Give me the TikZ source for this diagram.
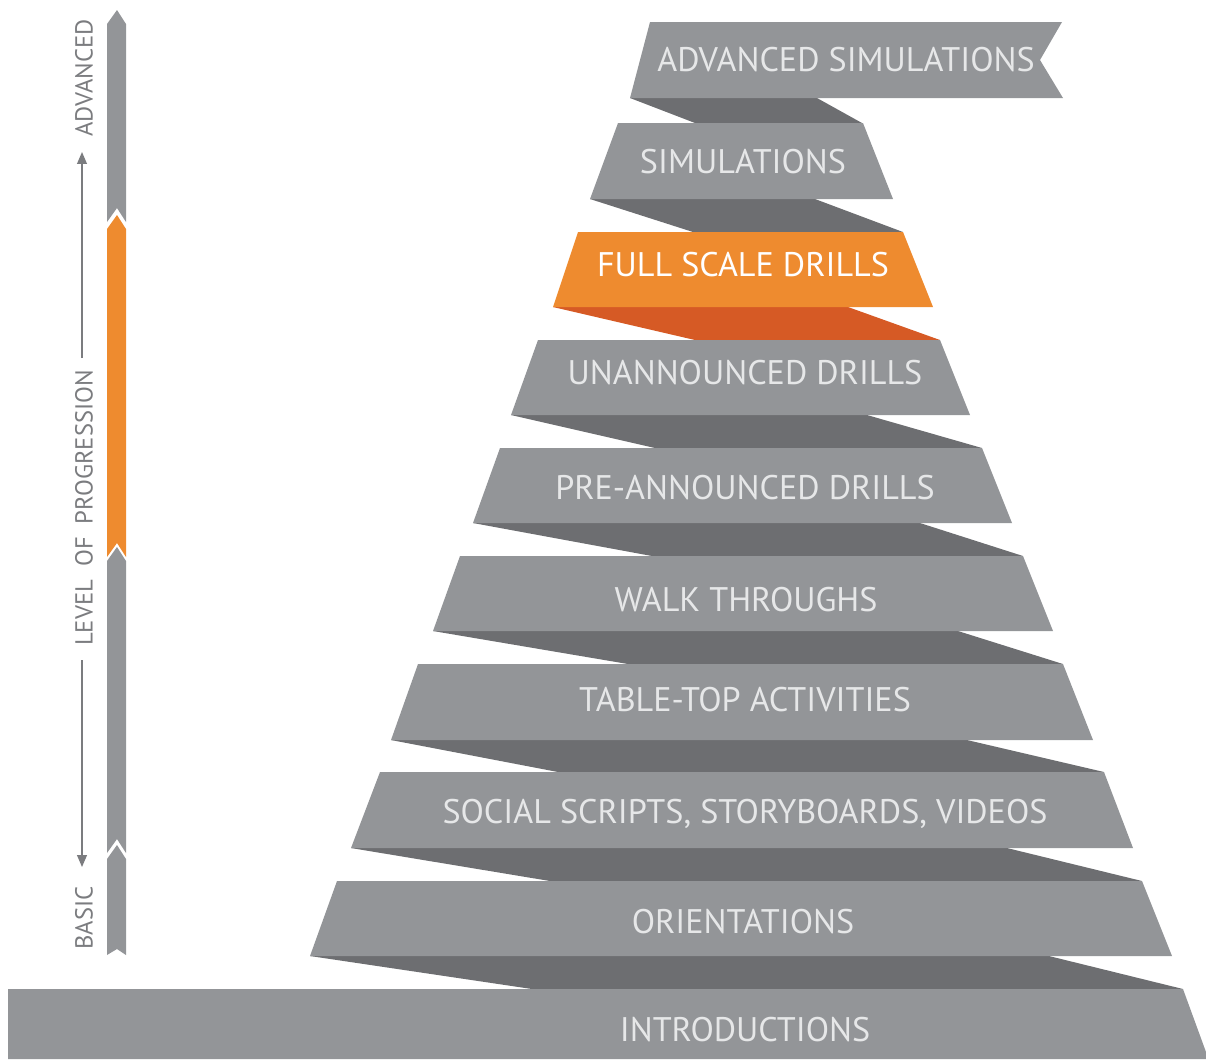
\documentclass[tikz,border=0pt]{standalone}
\usepackage{fontspec}
\setmainfont{PT Sans}
\usetikzlibrary{arrows.meta}
\definecolor{bandgray}{HTML}{939598}
\definecolor{foldgray}{HTML}{6D6E71}
\definecolor{bandorange}{HTML}{EE8B2F}
\definecolor{foldorange}{HTML}{D65A25}
\definecolor{captiongray}{HTML}{E6E7E8}
\definecolor{axisgray}{HTML}{7B7C7F}

\begin{document}
\begin{tikzpicture}[
  x=0.01cm, y=-0.01cm,
  bandfill/.style={fill=bandgray},
  foldfill/.style={fill=foldgray},
  bandtext/.style={text=captiongray, font=\fontsize{9.7}{11}\selectfont, inner sep=0pt},
  axistext/.style={text=axisgray, font=\fontsize{7}{8}\selectfont, rotate=90, inner sep=0pt},
  axisarrow/.style={draw=axisgray, line width=0.4pt, -{Triangle[length=3.4pt, width=2.8pt]}}
]
\useasboundingbox (0,0) rectangle (1206,1059);

% folds behind the bands
\fill[foldfill] (630,98) -- (817,98) -- (862,123) -- (695,123) -- cycle;
\fill[foldfill] (590,199) -- (815,199) -- (903,232) -- (693,232) -- cycle;
\fill[fill=foldorange] (553,307) -- (848,307) -- (940,340) -- (695,340) -- cycle;
\fill[foldfill] (511,415) -- (867,415) -- (982,448) -- (655,448) -- cycle;
\fill[foldfill] (473,523) -- (920,523) -- (1023,556) -- (652,556) -- cycle;
\fill[foldfill] (433,631) -- (958,631) -- (1063,664) -- (628,664) -- cycle;
\fill[foldfill] (391,740) -- (967,740) -- (1104,772) -- (558,772) -- cycle;
\fill[foldfill] (351,848) -- (1007,848) -- (1142,881) -- (550,881) -- cycle;
\fill[foldfill] (310,956) -- (1049,956) -- (1183,989) -- (532,989) -- cycle;

% bands
\fill[bandfill] (650,22) -- (1062,22) -- (1040,60) -- (1063,98) -- (630,98) -- cycle;
\fill[bandfill] (618,123) -- (863,123) -- (893,199) -- (590,199) -- cycle;
\fill[fill=bandorange] (578,232) -- (903,232) -- (933,307) -- (553,307) -- cycle;
\fill[bandfill] (538,340) -- (940,340) -- (970,415) -- (511,415) -- cycle;
\fill[bandfill] (500,448) -- (982,448) -- (1012,523) -- (473,523) -- cycle;
\fill[bandfill] (460,556) -- (1023,556) -- (1053,631) -- (433,631) -- cycle;
\fill[bandfill] (418,664) -- (1063,664) -- (1093,740) -- (391,740) -- cycle;
\fill[bandfill] (380,772) -- (1104,772) -- (1133,848) -- (351,848) -- cycle;
\fill[bandfill] (337,881) -- (1142,881) -- (1172,956) -- (310,956) -- cycle;
\fill[bandfill] (8,989) -- (1183,989) -- (1206,1052) -- (1206,1059) -- (8,1059) -- cycle;

\node[bandtext] (advsim) at (846,60) {ADVANCED SIMULATIONS};
\node[bandtext] (sim) at (743,162) {SIMULATIONS};
\node[bandtext, text=white] (fullscale) at (743,265) {FULL SCALE DRILLS};
\node[bandtext] (unannounced) at (745,373) {UNANNOUNCED DRILLS};
\node[bandtext] (preannounced) at (745,488) {PRE-ANNOUNCED DRILLS};
\node[bandtext] (walk) at (746,600) {WALK THROUGHS};
\node[bandtext] (tabletop) at (745,700) {TABLE-TOP ACTIVITIES};
\node[bandtext] (social) at (745,814) {SOCIAL SCRIPTS, STORYBOARDS, VIDEOS};
\node[bandtext] (orient) at (743,922) {ORIENTATIONS};
\node[bandtext] (intro) at (745,1030) {INTRODUCTIONS};

% progression bar
\fill[bandfill] (107,24) -- (117,10) -- (126,24) -- (126,222) -- (117,208) -- (107,222) -- cycle;
\fill[fill=bandorange] (107,229) -- (117,215) -- (126,229) -- (126,557) -- (117,543) -- (107,557) -- cycle;
\fill[bandfill] (107,561) -- (117,547) -- (126,561) -- (126,853) -- (117,839) -- (107,853) -- cycle;
\fill[bandfill] (107,859) -- (117,845) -- (126,859) -- (126,955) -- (117,949) -- (107,955) -- cycle;

\node[axistext] (advanced) at (84,78) {ADVANCED};
\node[axistext] (progress) at (84,508) {LEVEL\ \ OF\ \ PROGRESSION};
\node[axistext] (basic) at (84,918) {BASIC};

\coordinate (uptip) at (82,152);
\coordinate (upfoot) at (82,358);
\coordinate (downfoot) at (82,660);
\coordinate (downtip) at (82,867);
\draw[axisarrow] (upfoot) -- (uptip);
\draw[axisarrow] (downfoot) -- (downtip);
\end{tikzpicture}
\end{document}
